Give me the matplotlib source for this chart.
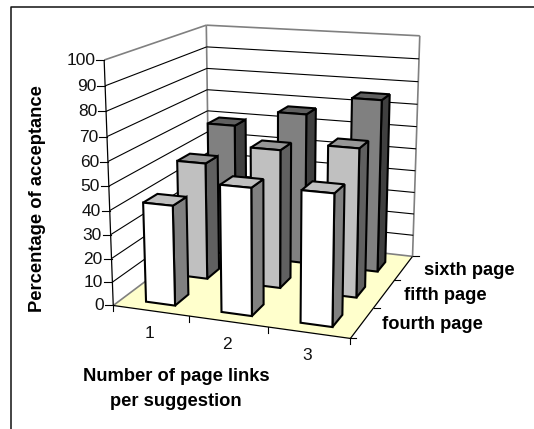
import numpy as np
from matplotlib import pyplot as plt

# acceptance values per series, one entry per number of page links
links = ['1', '2', '3']
pages = ['fourth page', 'fifth page', 'sixth page']
fourth_page = [42, 52.5, 53.5]
fifth_page = [51, 59.5, 63]
sixth_page = [60, 67.5, 76]
y_ticks = [0, 10, 20, 30, 40, 50, 60, 70, 80, 90, 100]

# face colours of each series: front, top, side
bar_colors = [('#ffffff', '#c0c0c0', '#808080'),
              ('#c0c0c0', '#969696', '#606060'),
              ('#808080', '#606060', '#404040')]

W, H = 534, 429

# corners of the chart box (unit x, unit y, z/100) and where they land on the canvas
box_3d = [(0, 0, 0), (0, 0, 1), (0, 1, 1), (1, 1, 1), (1, 1, 0), (1, 0, 0), (0, 1, 0)]
box_2d = [(113.5, 305), (104, 60), (206.5, 25), (419.7, 36), (412.7, 255.7), (350.3, 339), (209, 234)]


# solve the perspective camera matrix from the box corners
def fit_camera(pts3, pts2):
    rows = []
    rhs = []
    for (x, y, z), (u, v) in zip(pts3, pts2):
        rows.append([x, y, z, 1, 0, 0, 0, 0, -u * x, -u * y, -u * z])
        rows.append([0, 0, 0, 0, x, y, z, 1, -v * x, -v * y, -v * z])
        rhs += [u, v]
    sol = np.linalg.lstsq(np.array(rows, float), np.array(rhs, float), rcond=None)[0]
    return np.append(sol, 1).reshape(3, 4)


cam = fit_camera(box_3d, box_2d)


def project(x, y, z):
    p = cam @ np.array([x, y, z / 100, 1.0])
    return p[0] / p[2], p[1] / p[2]


def quad(ax, pts, face, edge='black', lw=1.5, zorder=2):
    ax.fill(*zip(*[project(*p) for p in pts]), facecolor=face, edgecolor=edge,
            linewidth=lw, joinstyle='miter', zorder=zorder)


def seg(ax, a, b, color='black', lw=0.8, zorder=1):
    pa, pb = project(*a), project(*b)
    ax.plot([pa[0], pb[0]], [pa[1], pb[1]], color=color, linewidth=lw, zorder=zorder,
            solid_capstyle='butt')


def draw_bar(ax, i, j, value, colors, order):
    front, top, side = colors
    x0, x1 = (i + 0.32) / 3, (i + 0.71) / 3
    y0, y1 = (j + 0.25) / 3, (j + 0.65) / 3
    z = order
    quad(ax, [(x1, y0, 0), (x1, y1, 0), (x1, y1, value), (x1, y0, value)], side, zorder=z)
    quad(ax, [(x0, y0, value), (x1, y0, value), (x1, y1, value), (x0, y1, value)], top, zorder=z)
    quad(ax, [(x0, y0, 0), (x1, y0, 0), (x1, y0, value), (x0, y0, value)], front, zorder=z)


plt.rcParams['font.family'] = ['Liberation Sans', 'DejaVu Sans']
fig = plt.figure(figsize=(W / 100, H / 100), dpi=100)
ax = fig.add_axes([0, 0, 1, 1])
ax.set_xlim(0, W)
ax.set_ylim(H, 0)
ax.axis('off')

# outer frame, open to the right and bottom
ax.plot([11, 11, W], [H, 7, 7], color='#111111', linewidth=1.1)

# floor and walls
quad(ax, [(0, 0, 0), (1, 0, 0), (1, 1, 0), (0, 1, 0)], '#ffffcc', edge='none', lw=0, zorder=0.5)
gray = '#808080'
seg(ax, (0, 0, 0), (0, 1, 0), gray, 1.2)
seg(ax, (0, 1, 0), (1, 1, 0), gray, 1.2)
seg(ax, (0, 1, 0), (0, 1, 100), gray, 1.2)
seg(ax, (1, 1, 0), (1, 1, 100), gray, 1.2)
seg(ax, (0, 0, 100), (0, 1, 100), gray, 1.2)
seg(ax, (0, 1, 100), (1, 1, 100), gray, 1.2)
for t in y_ticks[1:-1]:
    seg(ax, (0, 0, t), (0, 1, t))
    seg(ax, (0, 1, t), (1, 1, t))

# front axes with tick marks
seg(ax, (0, 0, 0), (0, 0, 100), 'black', 0.9, 1.5)
seg(ax, (0, 0, 0), (1, 0, 0), 'black', 0.9, 1.5)
seg(ax, (1, 0, 0), (1, 1, 0), 'black', 0.9, 1.5)
for t in y_ticks:
    u, v = project(0, 0, t)
    ax.plot([u - 8, u], [v, v], color='black', linewidth=0.8)
    ax.text(u - 9, v + 0.5, str(t), ha='right', va='center', fontsize=12.5, color='#111111')
for i in range(4):
    u, v = project(i / 3, 0, 0)
    ax.plot([u, u], [v, v + 6], color='black', linewidth=0.8)
for j in range(4):
    u, v = project(1, j / 3, 0)
    ax.plot([u, u + 6], [v, v], color='black', linewidth=0.8)
for i, label in enumerate(links):
    u, v = project((i + 0.5) / 3, 0, 0)
    ax.text(u - 1, v + 23, label, ha='center', va='center', fontsize=12.5, color='#111111')

# series names sit along the right floor edge
for j, label in enumerate(pages):
    u, v = project(1, (j + 0.5) / 3, 0)
    ax.text(u + 20, v + 2, label, ha='left', va='center', fontsize=13.2, fontweight='bold')

# bars, back row first and right to left inside a row
series = [fourth_page, fifth_page, sixth_page]
order = 3
for j in [2, 1, 0]:
    for i in [2, 1, 0]:
        draw_bar(ax, i, j, series[j][i], bar_colors[j], order)
        order += 1

ax.text(38, 198.5, 'Percentage of acceptance', rotation=90, ha='center', va='center',
        fontsize=13.2, fontweight='bold')
ax.text(176, 389, 'Number of page links\nper suggestion', ha='center', va='center',
        fontsize=13.2, fontweight='bold', linespacing=1.55)

fig.savefig('out.png', dpi=100)
